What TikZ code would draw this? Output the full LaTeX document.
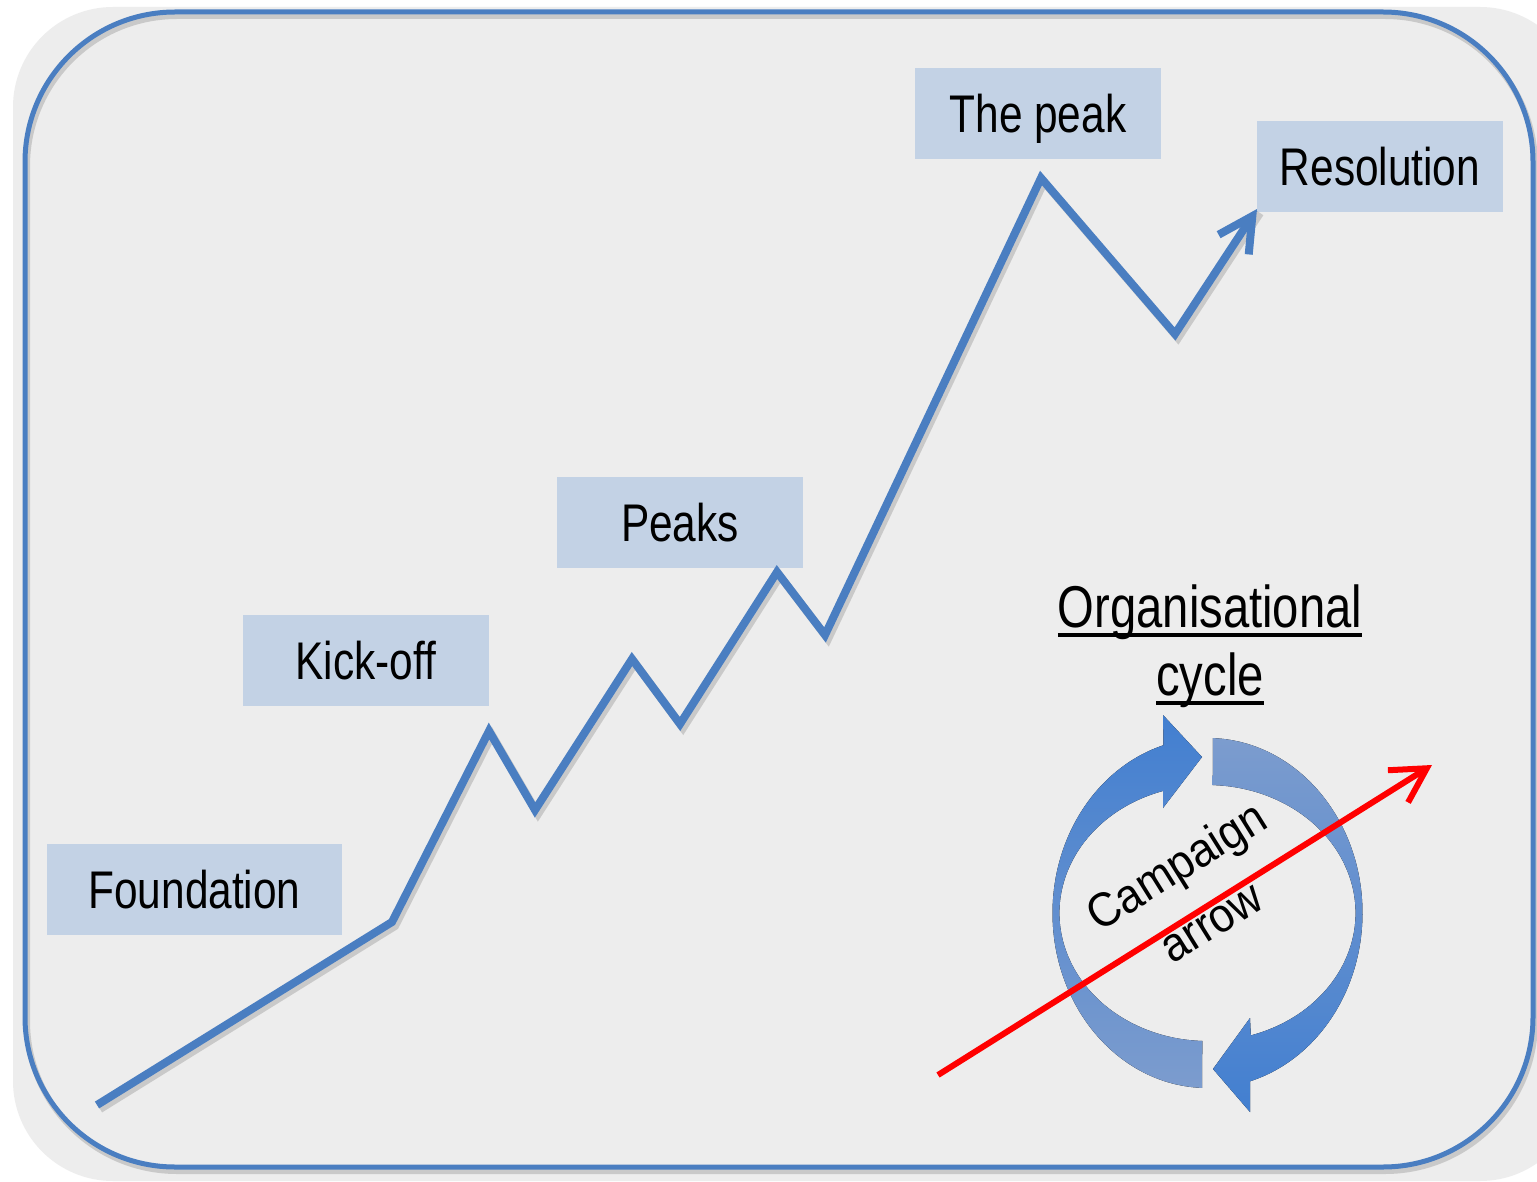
\documentclass[tikz,border=0pt]{standalone}
\usepackage{fontspec}
\setmainfont{Liberation Sans}[FakeStretch=0.8]
\newfontfamily\campfont{Liberation Sans}[FakeStretch=0.92]
\usetikzlibrary{arrows.meta}
\definecolor{bggray}{RGB}{237,237,237}
\definecolor{lineblue}{RGB}{74,126,193}
\definecolor{lblfill}{RGB}{195,210,229}
\definecolor{cycdark}{RGB}{66,127,208}
\definecolor{cyclight}{RGB}{124,156,206}
\newcommand\myuline[1]{\setbox0\hbox{#1}\makebox[0pt][l]{\rule[-5pt]{\wd0}{2pt}}\box0}
\begin{document}
\begin{tikzpicture}[x=0.5pt,y=-0.5pt,
  lbl/.style={fill=lblfill, minimum width=123pt, minimum height=45.5pt, inner sep=0pt,
    font=\fontsize{26.5}{30}\selectfont, text height=19pt, text depth=0pt},
  trend/.style={draw=lineblue, line width=4pt, line join=miter},
  shadowline/.style={draw=black, opacity=0.15, line width=4pt, line join=miter},
  orgtext/.style={inner sep=0pt, anchor=base, font=\fontsize{29.5}{34}\selectfont},
  campaign/.style={draw=red, line width=3pt, -{Straight Barb[length=17pt, width=19pt, line width=3pt]}}
]
\useasboundingbox (0,0) rectangle (1537,1182);
\fill[white] (0,0) rectangle (1537,1182);
% background panel
\fill[bggray, rounded corners=50pt] (13,7) rectangle (1580,1181);
% border with shadow
\draw[black, opacity=0.15, line width=3pt, rounded corners=75pt] (27,16) rectangle (1535,1171);
\draw[lineblue, line width=2.5pt, rounded corners=75pt] (25,12) rectangle (1533,1167);

% labels
\node[lbl, minimum width=147.5pt] (found) at (194.5,889.5) {Foundation};
\node[lbl] (kick) at (366,660.5) {Kick-off};
\node[lbl] (peaks) at (680,522) {Peaks};
\node[lbl] (thepeak) at (1038,113.5) {The peak};
\node[lbl] (res) at (1380,166.5) {Resolution};

% trend line points
\coordinate (p0) at (97,1105);
\coordinate (p1) at (392,922);
\coordinate (p2) at (489,731);
\coordinate (p3) at (535,810);
\coordinate (p4) at (632,659);
\coordinate (p5) at (680,724);
\coordinate (p6) at (777,572);
\coordinate (p7) at (825,635);
\coordinate (p8) at (1041,178);
\coordinate (p9) at (1175,334);
\coordinate (p10) at (1257,209);

\draw[shadowline] ([shift={(3,4)}]p0) -- ([shift={(3,4)}]p1) -- ([shift={(3,4)}]p2) -- ([shift={(3,4)}]p3) -- ([shift={(3,4)}]p4) -- ([shift={(3,4)}]p5) -- ([shift={(3,4)}]p6) -- ([shift={(3,4)}]p7) -- ([shift={(3,4)}]p8) -- ([shift={(3,4)}]p9) -- ([shift={(3,4)}]p10);
\draw[trend, -{Straight Barb[length=17pt, width=18pt, line width=4pt]}] (p0) -- (p1) -- (p2) -- (p3) -- (p4) -- (p5) -- (p6) -- (p7) -- (p8) -- (p9) -- (p10);

% organisational cycle title
\node[orgtext] (org1) at (1210,627) {\myuline{Organisational}};
\node[orgtext] (org2) at (1210,695) {\myuline{cycle}};

% cycle arrows: right arrow (top to bottom)
\fill[top color=cyclight, bottom color=cycdark]
  (1212.9,738.1) arc[start angle=-88, end angle=74, x radius=155, y radius=175]
  -- (1250,1112) -- (1213,1069) -- (1250,1018) -- (1250.8,1035.4)
  arc[start angle=73, end angle=-88, x radius=148, y radius=128] -- cycle;
% left arrow (bottom to top)
\fill[top color=cycdark, bottom color=cyclight]
  (1202.1,1087.9) arc[start angle=92, end angle=253.5, x radius=155, y radius=175]
  -- (1163,715) -- (1202,757) -- (1163,808) -- (1163.2,790.9)
  arc[start angle=252.6, end angle=92, x radius=148, y radius=128] -- cycle;

% campaign text
\node[inner sep=0pt, rotate=32, align=center, font=\campfont\fontsize{24}{33}\selectfont] (camp) at (1193,893) {Campaign\\arrow};

% red campaign arrow
\coordinate (r0) at (938,1075);
\coordinate (r1) at (1432,765);
\draw[campaign] (r0) -- (r1);
\end{tikzpicture}
\end{document}
